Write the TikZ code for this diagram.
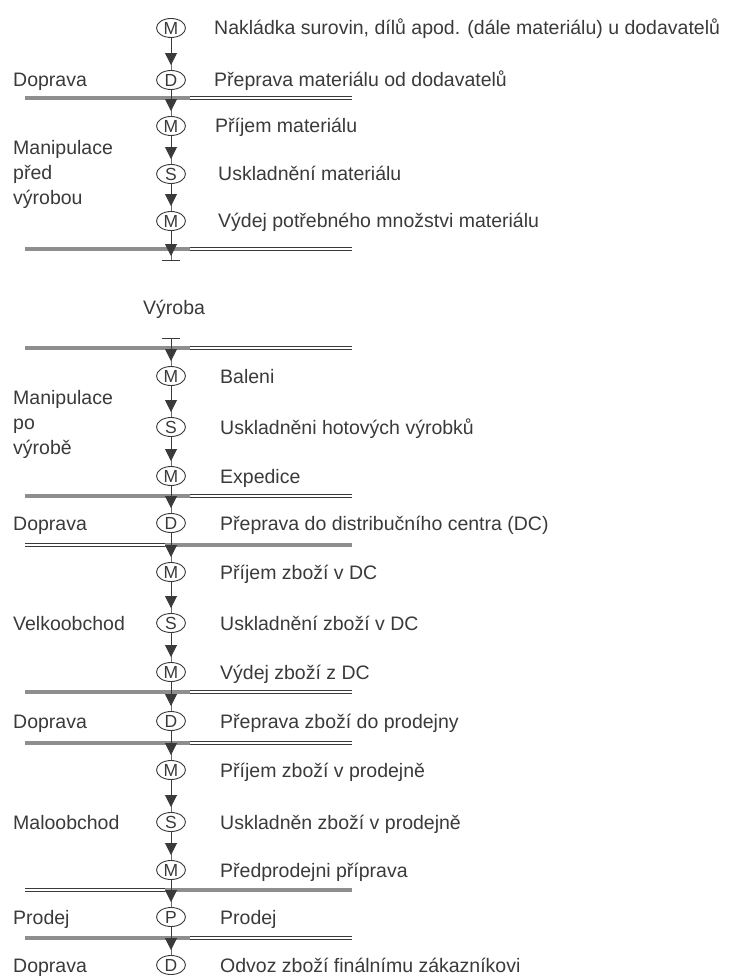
\documentclass[tikz,border=0pt]{standalone}
\usepackage{fontspec}
\setmainfont{Liberation Sans}
\usetikzlibrary{arrows.meta, shapes.geometric}
\definecolor{ink}{HTML}{3A3A3A}
\definecolor{rulegray}{HTML}{8E8E8E}
\begin{document}
\begin{tikzpicture}[x=1pt, y=-1pt,
  every node/.style={text=ink, font=\fontsize{19.5}{25}\selectfont},
  op/.style={ellipse, draw=ink, line width=0.9pt, minimum width=29pt,
             minimum height=19pt, inner sep=0pt, font=\fontsize{17.5}{17.5}\selectfont},
  desc/.style={anchor=west, text height=14pt, text depth=0pt, inner sep=0pt},
  side/.style={anchor=west, align=left, inner sep=0pt},
  stem/.style={draw=ink!75, line width=0.8pt},
  head/.style={draw=ink, fill=ink, line width=0.8pt,
               -{Triangle[width=12pt, length=12pt]}, shorten >=5pt},
  band/.style={draw=rulegray, line width=3.6pt},
  twin/.style={draw=ink, double=white, line width=0.9pt, double distance=1.6pt},
  bar/.style={draw=ink, line width=1pt}
]
\useasboundingbox (0,0) rectangle (730,976);

% phase separators: grey band with a double rule
\foreach \y in {98,249,348,496,692,743,938} {
  \draw[band] (25,\y) -- (205,\y);
  \draw[twin] (190,\y) -- (352,\y);
}
\foreach \y in {545,890} {
  \draw[twin] (25,\y) -- (180,\y);
  \draw[band] (165,\y) -- (352,\y);
}

% operations (M manipulation, D transport, S storage, P sale)
\node[op] (m1) at (171,28)  {M};
\node[op] (d1) at (171,80)  {D};
\node[op] (m2) at (171,126) {M};
\node[op] (s1) at (171,174) {S};
\node[op] (m3) at (171,221) {M};
\coordinate (tb1) at (171,260);
\coordinate (tb2) at (171,338);
\node[op] (m4) at (171,376) {M};
\node[op] (s2) at (171,427) {S};
\node[op] (m5) at (171,476) {M};
\node[op] (d2) at (171,523) {D};
\node[op] (m6) at (171,572) {M};
\node[op] (s3) at (171,623) {S};
\node[op] (m7) at (171,672) {M};
\node[op] (d3) at (171,721) {D};
\node[op] (m8) at (171,770) {M};
\node[op] (s4) at (171,822) {S};
\node[op] (m9) at (171,870) {M};
\node[op] (p1) at (171,917) {P};
\node[op] (d4) at (171,965) {D};

% descriptions
\node[desc] (tm1) at (214,28)  {Nakládka surovin, dílů apod. (dále materiálu) u dodavatelů};
\node[desc] (td1) at (214,80)  {Přeprava materiálu od dodavatelů};
\node[desc] (tm2) at (215,126) {Příjem materiálu};
\node[desc] (ts1) at (218,174) {Uskladnění materiálu};
\node[desc] (tm3) at (218,221) {Výdej potřebného množstvi materiálu};
\node[desc] (tm4) at (220,376) {Baleni};
\node[desc] (ts2) at (220,427) {Uskladněni hotových výrobků};
\node[desc] (tm5) at (220,476) {Expedice};
\node[desc] (td2) at (220,523) {Přeprava do distribučního centra (DC)};
\node[desc] (tm6) at (220,572) {Příjem zboží v DC};
\node[desc] (ts3) at (220,623) {Uskladnění zboží v DC};
\node[desc] (tm7) at (220,672) {Výdej zboží z DC};
\node[desc] (td3) at (220,721) {Přeprava zboží do prodejny};
\node[desc] (tm8) at (220,770) {Příjem zboží v prodejně};
\node[desc] (ts4) at (220,822) {Uskladněn zboží v prodejně};
\node[desc] (tm9) at (220,870) {Předprodejni příprava};
\node[desc] (tp1) at (220,917) {Prodej};
\node[desc] (td4) at (220,965) {Odvoz zboží finálnímu zákazníkovi};

% phases
\node[desc] (ph1) at (13,80)  {Doprava};
\node[side] (ph2) at (13,174) {Manipulace\\před\\výrobou};
\node[desc] (ph3) at (143,307) {Výroba};
\node[side] (ph4) at (13,424) {Manipulace\\po\\výrobě};
\node[desc] (ph5) at (13,523) {Doprava};
\node[desc] (ph6) at (13,623) {Velkoobchod};
\node[desc] (ph7) at (13,721) {Doprava};
\node[desc] (ph8) at (13,822) {Maloobchod};
\node[desc] (ph9) at (13,917) {Prodej};
\node[desc] (ph10) at (13,965) {Doprava};

% flow connectors
\foreach \a/\b in {m1/d1, d1/m2, m2/s1, s1/m3, tb2/m4, m4/s2, s2/m5, m5/d2,
                   d2/m6, m6/s3, s3/m7, m7/d3, d3/m8, m8/s4, s4/m9, m9/p1, p1/d4} {
  \draw[stem] (\a) -- (\b);
  \draw[head] (\a) -- (\b);
}
\draw[stem] (m3) -- (tb1);
\draw[head, shorten >=4pt] (m3) -- (tb1);

% production boundary bars
\draw[bar] ([xshift=-9pt]tb1) -- ([xshift=9pt]tb1);
\draw[bar] ([xshift=-9pt]tb2) -- ([xshift=9pt]tb2);
\end{tikzpicture}
\end{document}
